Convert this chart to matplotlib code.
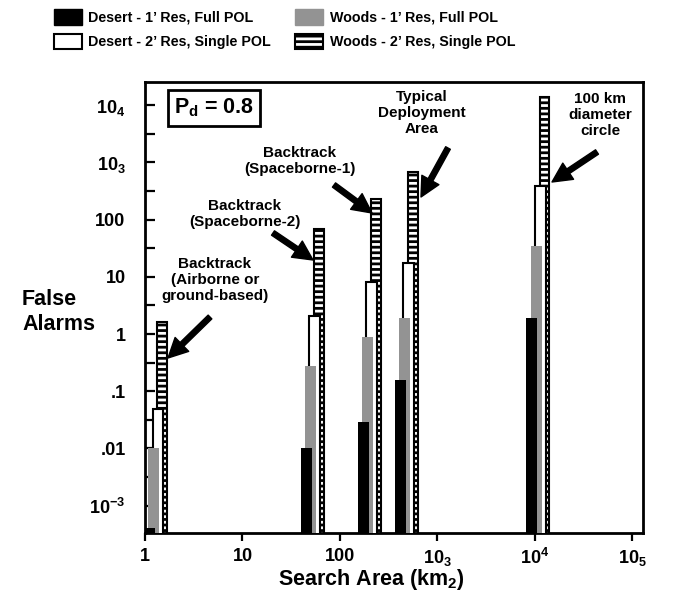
import matplotlib
matplotlib.use("Agg")
import matplotlib.pyplot as plt
from matplotlib.patches import Patch
from matplotlib.ticker import FixedLocator, NullLocator, NullFormatter

plt.rcParams['font.family'] = ['Liberation Sans', 'DejaVu Sans']
plt.rcParams['font.weight'] = 'bold'
plt.rcParams['mathtext.fontset'] = 'custom'
plt.rcParams['mathtext.rm'] = 'Liberation Sans:bold'
plt.rcParams['mathtext.it'] = 'Liberation Sans:bold'
plt.rcParams['mathtext.bf'] = 'Liberation Sans:bold'
plt.rcParams['mathtext.default'] = 'rm'
plt.rcParams['hatch.linewidth'] = 2.0

# ---- data ----
search_area = [1.28, 52, 200, 480, 10700]          # km^2, one group per scenario
desert_1ft_full = [4e-4, 0.01, 0.029, 0.16, 1.9]
woods_1ft_full = [0.01, 0.28, 0.9, 1.93, 35]
desert_2ft_single = [0.049, 2.1, 8.2, 17.4, 387]
woods_2ft_single = [1.64, 68, 229, 670, 13700]

series_labels = ["Desert - 1\u2019 Res, Full POL", "Desert - 2\u2019 Res, Single POL",
                 "Woods - 1\u2019 Res, Full POL", "Woods - 2\u2019 Res, Single POL"]

y_ticks = [1e-3, 1e-2, 1e-1, 1, 10, 100, 1e3, 1e4]
y_ticklabels = [r'$10^{-3}$', '.01', '.1', '1', '10', '100', r'$10_3$', r'$10_4$']
x_ticks = [1, 10, 100, 1e3, 1e4, 1e5]
x_ticklabels = ['1', '10', '100', r'$10_3$', r'$10^4$', r'$10_5$']

annotations = [
    ("Backtrack\n(Airborne or\nground-based)", (215, 280), (210, 317), (168, 358)),
    ("Backtrack\n(Spaceborne-2)", (245, 214), (273, 233), (313, 260)),
    ("Backtrack\n(Spaceborne-1)", (300, 161), (334, 185), (372, 213)),
    ("Typical\nDeployment\nArea", (422, 113), (448, 148), (421, 197)),
    ("100 km\ndiameter\ncircle", (600, 115), (597, 152), (552, 182)),
]

# ---- layout ----
W, H = 698, 603
AX_L, AX_R, AX_T, AX_B = 145, 643, 82, 533

def fx(x):
    return (x - AX_L) / (AX_R - AX_L)

def fy(y):
    return (AX_B - y) / (AX_B - AX_T)

fig = plt.figure(figsize=(W / 100, H / 100), dpi=100)
ax = fig.add_axes([AX_L / W, 1 - AX_B / H, (AX_R - AX_L) / W, (AX_B - AX_T) / H])
ax.set_xscale('log')
ax.set_yscale('log')
ax.set_xlim(1, 10 ** 5.108)
ax.set_ylim(10 ** -3.479, 10 ** 4.406)

GREY = '#939393'
# (values, offset in decades, width in decades, style, zorder)
bar_specs = [
    (woods_2ft_single, 0.068, 0.098, dict(facecolor='white', edgecolor='black', hatch='---', linewidth=1.5), 2),
    (desert_2ft_single, 0.025, 0.11, dict(facecolor='white', edgecolor='black', linewidth=1.5), 3),
    (woods_1ft_full, -0.017, 0.11, dict(facecolor=GREY, edgecolor='none'), 4),
    (desert_1ft_full, -0.062, 0.113, dict(facecolor='black', edgecolor='none'), 5),
]
for vals, off, w, style, z in bar_specs:
    lefts = [a * 10 ** (off - w / 2) for a in search_area]
    rights = [a * 10 ** (off + w / 2) for a in search_area]
    widths = [r - l for l, r in zip(lefts, rights)]
    ax.bar(lefts, [v - 1e-6 for v in vals], width=widths, bottom=1e-6,
           align='edge', zorder=z, **style)

for s in ax.spines.values():
    s.set_linewidth(2)

ax.yaxis.set_major_locator(FixedLocator(y_ticks))
ax.set_yticklabels(y_ticklabels)
ax.yaxis.set_minor_locator(FixedLocator([10 ** (k + 0.5) for k in range(-3, 4)]))
ax.yaxis.set_minor_formatter(NullFormatter())
ax.tick_params(axis='y', which='both', direction='in', length=7, width=1.6,
               labelsize=13, pad=14)
ax.xaxis.set_major_locator(FixedLocator(x_ticks))
ax.set_xticklabels(x_ticklabels)
ax.xaxis.set_minor_locator(NullLocator())
ax.tick_params(axis='x', which='major', direction='out', length=6, width=1.6,
               labelsize=13, pad=5)

fig.text(22 / W, 1 - 312 / H, "False\nAlarms", ha='left', va='center',
         multialignment='left', fontsize=15.5, fontweight='bold', linespacing=1.2)
fig.text(371 / W, 1 - 580 / H, r"Search Area (km$_2$)", ha='center', va='center',
         fontsize=15.5, fontweight='bold')

ax.text(fx(214), fy(108), r"P$_\mathregular{d}$ = 0.8", transform=ax.transAxes,
        ha='center', va='center', fontsize=15.5, fontweight='bold',
        bbox=dict(boxstyle='square,pad=0.3', facecolor='white', edgecolor='black', linewidth=2),
        zorder=10)

for text, tpos, tail, tip in annotations:
    ax.text(fx(tpos[0]), fy(tpos[1]), text, transform=ax.transAxes, ha='center',
            va='center', fontsize=11, fontweight='bold', linespacing=1.15, zorder=10)
    ax.annotate('', xy=(fx(tip[0]), fy(tip[1])), xycoords='axes fraction',
                xytext=(fx(tail[0]), fy(tail[1])), textcoords='axes fraction',
                arrowprops=dict(facecolor='black', edgecolor='black', width=3.8,
                                headwidth=14, headlength=14, shrink=0),
                zorder=10)

handles = [
    Patch(facecolor='black', edgecolor='black', linewidth=1),
    Patch(facecolor='white', edgecolor='black', linewidth=1.5),
    Patch(facecolor=GREY, edgecolor=GREY, linewidth=1),
    Patch(facecolor='white', edgecolor='black', hatch='---', linewidth=1.5),
]
fig.legend(handles, series_labels, ncol=2, loc='upper left',
           bbox_to_anchor=(54 / W, 1 - 9 / H), frameon=False, borderpad=0,
           borderaxespad=0, handlelength=1.95, handleheight=1.3, handletextpad=0.45,
           columnspacing=1.7, labelspacing=0.65,
           prop=dict(family='Liberation Sans', weight='bold', size=10.3))

fig.savefig('out.png', dpi=100)
